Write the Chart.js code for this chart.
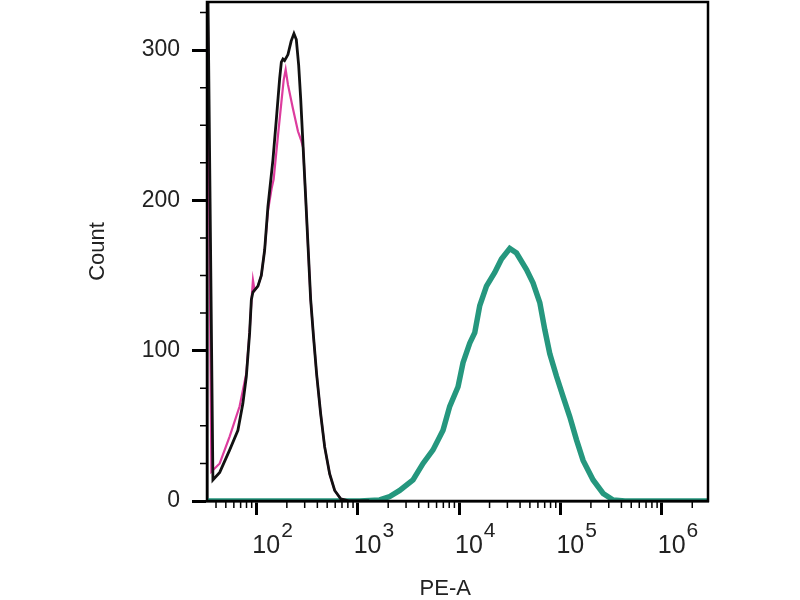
<!DOCTYPE html>
<html>
<head>
<meta charset="utf-8">
<script src="https://cdn.jsdelivr.net/npm/chart.js@4.4.1/dist/chart.umd.min.js"></script>
<style>
  html, body { margin: 0; padding: 0; background: #fff; }
  #wrap { width: 800px; height: 600px; }
</style>
</head>
<body>
<div id="wrap"><canvas id="histo" width="800" height="600"></canvas></div>
<script>
// PE-A intensity (x) and count (y)
const blackX = [32.6, 37.3, 43.5, 54.6, 65.8, 73.7, 79.7, 85.9, 89.3, 92.6, 103.7, 112, 120.8, 130.2, 145.8, 157.6, 169.8, 176.5, 183.1, 190, 205.1, 220.6, 235, 248, 261.6, 273.7, 289.7, 306.7, 324.6, 343.6, 367.9, 393.9, 431.3, 472.3, 529.2, 592.9, 679.6, 833.7, 1300];
const blackY = [400, 14, 19, 34, 47, 65, 83, 112, 134, 139, 143, 150, 167, 196, 227, 254, 281, 292, 294, 293, 297, 306, 311, 307, 290, 268, 235, 202, 168, 134, 108, 84, 58, 36, 18, 7, 1.5, 0, 0];

const pinkX = [32.6, 36.0, 43.5, 54.6, 68.4, 79.7, 85.9, 89.3, 92.6, 96.2, 103.7, 112, 120.8, 130.2, 141.6, 148.2, 163.4, 176.5, 186.1, 194.7, 205.1, 229.8, 257.4, 276.9, 289.7, 306.7, 324.6, 343.6, 367.9, 393.9, 431.3, 472.3, 529.2, 592.9, 679.6, 833.7, 1300];
const pinkY = [400, 19.5, 25, 43, 63, 85, 113, 132, 147, 140, 143, 150, 167, 193, 208, 214, 243, 265, 280, 287, 277, 261, 246, 240, 235, 202, 168, 134, 108, 84, 58, 36, 18, 7, 1.5, 0, 0];

const tealX = [32.6, 1046, 1649, 2070, 2598, 3515, 4413, 5539, 6951, 8094, 9774, 10950, 12750, 14290, 16010, 18650, 22510, 26220, 31660, 36870, 46280, 53780, 62630, 70160, 78620, 91530, 106300, 123800, 144200, 167500, 210300, 264000, 331300, 432300, 2860000];
const tealY = [0, 0, 0.7, 3, 7, 14, 25, 34, 47, 63, 76, 92, 105, 112, 130, 143, 152, 161, 168, 165, 154, 145, 132, 114, 98, 83, 69.5, 56, 40.7, 27, 14, 5, 0.7, 0, 0];

const xMin = 32.6;
const xMax = 2860000;
const xMajorTicks = [100, 1000, 10000, 100000, 1000000];
const xTickExp = ['2', '3', '4', '5', '6'];
const yMajorTicks = [0, 100, 200, 300];
const yMinorTicks = [25, 50, 75, 125, 150, 175, 225, 250, 275, 325];

const FONT = '"Liberation Sans", Arial, sans-serif';

// minor log ticks 2..9 x 10^n inside the axis range
const xMinorTicks = [];
for (let d = 10; d <= 1000000; d *= 10) {
  for (let m = 2; m <= 9; m++) {
    const v = m * d;
    if (v > xMin && v < xMax) xMinorTicks.push(v);
  }
}

const toPoints = (xs, ys) => xs.map((x, i) => ({ x: x, y: ys[i] }));

// frame, minor ticks and 10^n labels
const axisExtras = {
  id: 'axisExtras',
  afterDraw(chart) {
    const { ctx, chartArea: a } = chart;
    const sx = chart.scales.x;
    const sy = chart.scales.y;
    ctx.save();
    ctx.strokeStyle = '#000';
    ctx.lineWidth = 2.5;
    ctx.strokeRect(a.left, a.top, a.right - a.left, a.bottom - a.top);

    ctx.lineWidth = 1.5;
    ctx.beginPath();
    xMinorTicks.forEach(v => {
      const px = sx.getPixelForValue(v);
      ctx.moveTo(px, a.bottom);
      ctx.lineTo(px, a.bottom + 7);
    });
    yMinorTicks.forEach(v => {
      const py = sy.getPixelForValue(v);
      ctx.moveTo(a.left, py);
      ctx.lineTo(a.left - 7, py);
    });
    ctx.stroke();

    ctx.fillStyle = '#222';
    ctx.textAlign = 'left';
    ctx.textBaseline = 'alphabetic';
    xMajorTicks.forEach((v, i) => {
      const px = sx.getPixelForValue(v) - 4;
      ctx.font = '25px ' + FONT;
      ctx.fillText('10', px, a.bottom + 52);
      const w = ctx.measureText('10').width;
      ctx.font = '21px ' + FONT;
      ctx.fillText(xTickExp[i], px + w + 1, a.bottom + 36);
    });
    ctx.restore();
  }
};

const noPad = s => {
  s.paddingTop = 0;
  s.paddingBottom = 0;
  s.paddingLeft = 0;
  s.paddingRight = 0;
};

new Chart(document.getElementById('histo'), {
  type: 'line',
  data: {
    datasets: [
      {
        label: 'control',
        data: toPoints(blackX, blackY),
        borderColor: '#111111',
        borderWidth: 2.8,
        pointRadius: 0,
        tension: 0
      },
      {
        label: 'isotype',
        data: toPoints(pinkX, pinkY),
        borderColor: '#dd3c9e',
        borderWidth: 2.2,
        pointRadius: 0,
        tension: 0
      },
      {
        label: 'stained',
        data: toPoints(tealX, tealY),
        borderColor: '#25977e',
        borderWidth: 5.5,
        pointRadius: 0,
        tension: 0
      }
    ]
  },
  options: {
    responsive: false,
    animation: false,
    layout: { padding: { top: 2, right: 92, left: 0, bottom: 0 } },
    plugins: {
      legend: { display: false },
      tooltip: { enabled: false }
    },
    scales: {
      x: {
        type: 'logarithmic',
        min: xMin,
        max: xMax,
        z: 1,
        afterBuildTicks: s => { s.ticks = xMajorTicks.map(v => ({ value: v })); },
        afterFit: s => { s.height = 99; noPad(s); },
        ticks: { display: false },
        grid: { drawOnChartArea: false, drawTicks: true, tickLength: 14, tickWidth: 3, tickColor: '#000' },
        border: { display: true, color: '#000', width: 2.5 },
        title: {
          display: true,
          text: 'PE-A    ',
          color: '#222',
          font: { family: FONT, size: 22, lineHeight: 1 },
          padding: 0
        }
      },
      y: {
        min: 0,
        max: 332,
        z: 1,
        afterBuildTicks: s => { s.ticks = yMajorTicks.map(v => ({ value: v })); },
        afterFit: s => { s.width = 207; noPad(s); },
        ticks: { color: '#222', font: { family: FONT, size: 23 }, padding: 12 },
        grid: { drawOnChartArea: false, drawTicks: true, tickLength: 15, tickWidth: 3, tickColor: '#000' },
        border: { display: true, color: '#000', width: 2.5 },
        title: {
          display: true,
          text: 'Count',
          color: '#222',
          font: { family: FONT, size: 22 },
          padding: { top: 85, bottom: 0 }
        }
      }
    }
  },
  plugins: [axisExtras]
});
</script>
</body>
</html>
